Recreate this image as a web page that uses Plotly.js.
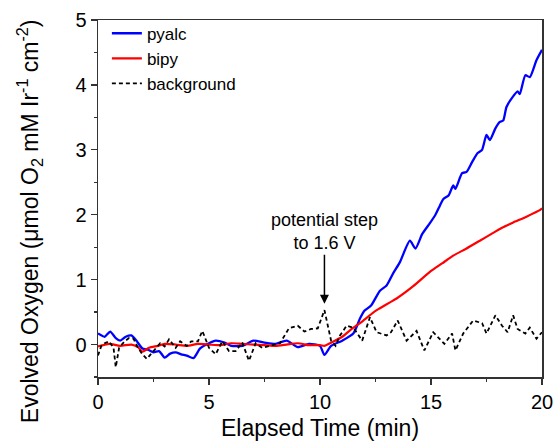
<!DOCTYPE html>
<html><head><meta charset="utf-8">
<script src="https://cdn.plot.ly/plotly-3.0.1.min.js"></script>
<style>body{margin:0;background:#fff}#c{width:553px;height:444px}</style>
</head><body><div id="c"></div>
<script>
// pyalc (blue)
var pyalcT = [0,0.3,0.55,0.8,1,1.25,1.5,1.75,2,2.25,2.5,2.75,3,3.25,3.5,3.75,4,4.3,4.6,5,5.3,5.7,6,6.5,7,7.5,8,8.5,9,9.5,10,10.2,10.5,11,11.5,11.8,12,12.3,12.7,13,13.3,13.6,14.05,14.3,14.6,14.95,15.2,15.4,15.55,15.8,16,16.1,16.4,16.6,16.85,17.1,17.3,17.5,17.65,17.9,18.1,18.25,18.4,18.65,18.9,19,19.25,19.45,19.75,20];
var pyalcY = [0.17,0.12,0.2,0.1,0.06,0.12,0.14,0.05,-0.06,-0.08,-0.12,-0.1,-0.2,-0.14,-0.12,-0.15,-0.17,-0.21,-0.06,0.02,0.06,0.03,-0.02,-0.02,0.06,0.03,0.01,0.06,-0.04,0.01,-0.02,-0.16,-0.02,0.06,0.17,0.4,0.52,0.6,0.83,0.91,1.1,1.27,1.6,1.48,1.7,1.87,2.0,2.14,2.24,2.3,2.45,2.4,2.64,2.66,2.81,2.95,3.0,3.23,3.15,3.33,3.43,3.45,3.66,3.8,3.9,3.86,4.15,4.12,4.38,4.54];
// bipy (red)
var bipyT = [0,0.5,1,1.5,1.8,2,2.3,2.7,3,3.5,4,4.5,5,5.5,6,6.5,7,7.5,8,8.5,9,9.5,10,10.2,10.45,11,11.35,11.95,12.5,12.7,13.15,13.45,14.2,14.95,15.5,16,16.6,17.2,17.8,18.2,18.7,19.3,19.9,20];
var bipyY = [-0.03,0.01,-0.02,0.0,-0.04,-0.11,-0.05,-0.02,0.01,0.0,-0.02,0.01,0.0,-0.01,0.02,0.01,0.0,-0.01,-0.02,0.0,0.02,-0.01,-0.01,-0.02,0.02,0.12,0.22,0.37,0.52,0.56,0.65,0.71,0.9,1.12,1.25,1.37,1.48,1.6,1.72,1.8,1.88,1.97,2.07,2.1];
// background (black dashed)
var bgT = [0,0.15,0.3,0.5,0.7,0.8,0.95,1.2,1.4,1.6,1.8,2.0,2.2,2.5,2.8,3.0,3.2,3.5,3.7,4.0,4.2,4.5,4.7,5.0,5.3,5.6,5.9,6.2,6.5,6.8,7.1,7.4,7.8,8.2,8.6,9.0,9.3,9.6,9.9,10.2,10.5,10.7,10.9,11.2,11.5,11.9,12.25,12.55,13.0,13.2,13.5,13.9,14.35,14.7,15.1,15.6,15.95,16.1,16.45,16.9,17.3,17.5,17.9,18.2,18.45,18.7,18.9,19.25,19.45,19.75,20];
var bgY = [-0.17,-0.02,0.02,0.05,-0.05,-0.35,-0.05,0.05,0.1,0.09,-0.05,-0.15,-0.22,-0.1,0.02,-0.03,0.08,-0.05,0.05,-0.02,0.05,0.05,0.21,-0.05,-0.15,0.05,-0.1,-0.1,0.03,-0.25,0.02,-0.05,-0.02,0.02,0.25,0.29,0.2,0.24,0.25,0.53,0.06,-0.02,0.14,0.29,0.26,0.06,0.42,0.19,0.14,0.19,0.37,0.06,0.21,-0.09,0.19,0.01,0.17,-0.09,0.17,0.37,0.33,0.17,0.45,0.29,0.19,0.45,0.24,0.17,0.26,0.09,0.19];
var seriesNames = ['pyalc','bipy','background'];

var traces = [
  {x: pyalcT, y: pyalcY, name: seriesNames[0], mode:'lines', line:{color:'#0000ff', width:2.3, shape:'spline', smoothing:0.6}},
  {x: bipyT, y: bipyY, name: seriesNames[1], mode:'lines', line:{color:'#ff0000', width:2.2, shape:'spline', smoothing:0.6}},
  {x: bgT, y: bgY, name: seriesNames[2], mode:'lines', line:{color:'#000000', width:1.8, dash:'4px,3px'}}
];
var fontF = 'Liberation Sans, Arial, sans-serif';
var layout = {
  width:553, height:444,
  margin:{l:98, r:11, t:20, b:67},
  paper_bgcolor:'#fff', plot_bgcolor:'#fff',
  font:{family:fontF, color:'#000'},
  showlegend:true,
  legend:{x:0.02, y:1.012, xanchor:'left', yanchor:'top', bgcolor:'rgba(0,0,0,0)', font:{size:17}, tracegroupgap:0},
  xaxis:{range:[0,20], dtick:5, tick0:0, showgrid:false, zeroline:false, showline:true, linecolor:'#333', linewidth:1.5, mirror:true,
    ticks:'outside', ticklen:6, tickwidth:1.2, tickcolor:'#333', tickfont:{size:20}, ticklabeloverflow:'allow',
    minor:{dtick:2.5, ticks:'outside', ticklen:3, tickcolor:'#333', tickwidth:1.2, showgrid:false},
    title:{text:'Elapsed Time (min)', font:{size:23}, standoff:8}},
  yaxis:{range:[-0.5,5], dtick:1, tick0:0, showgrid:false, zeroline:false, showline:true, linecolor:'#333', linewidth:1.5, mirror:true,
    ticks:'outside', ticklen:6, tickwidth:1.2, tickcolor:'#333', tickfont:{size:20},
    minor:{dtick:0.5, ticks:'outside', ticklen:3, tickcolor:'#333', tickwidth:1.2, showgrid:false}},
  annotations:[
    {x:10.2, y:0.63, xref:'x', yref:'y', text:'potential step<br>to 1.6 V', showarrow:true,
     arrowhead:2, arrowsize:1.2, arrowwidth:1.5, arrowcolor:'#000', ax:0, ay:-72, font:{size:18, color:'#000'}, align:'center'},
    {x:-0.155, y:0.437, xref:'paper', yref:'paper', xanchor:'center', yanchor:'middle', textangle:-90, showarrow:false,
     text:'Evolved Oxygen (μmol O<sub>2</sub> mM Ir<sup>-1</sup> cm<sup>-2</sup>)', font:{size:23, color:'#000'}}
  ]
};
Plotly.newPlot('c', traces, layout, {displayModeBar:false, staticPlot:true});
</script></body></html>
